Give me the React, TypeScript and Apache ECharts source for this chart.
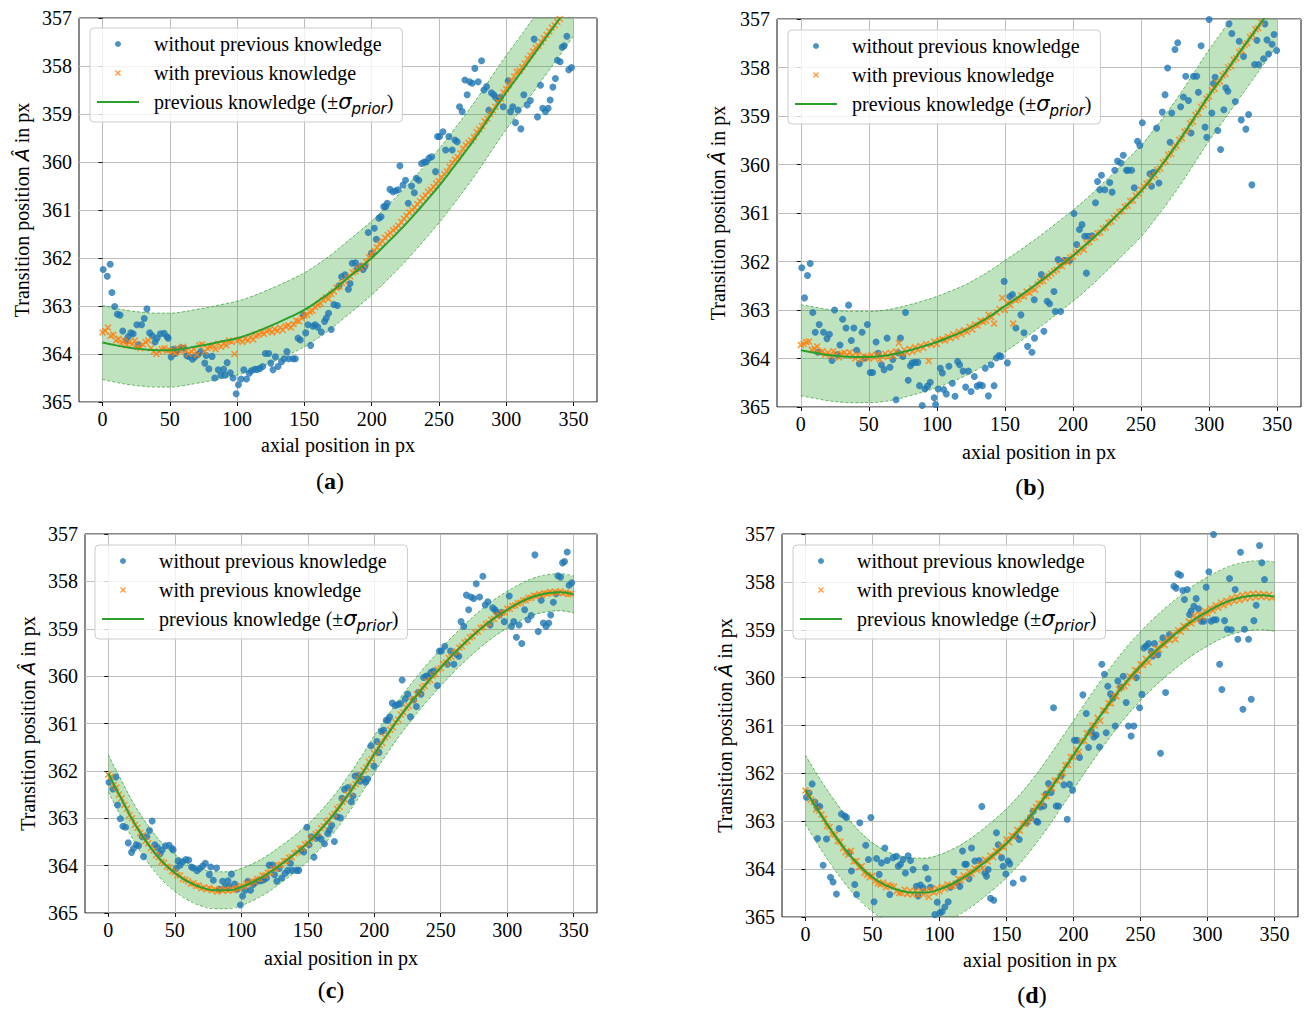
import React, { useEffect, useRef } from "react";
import * as echarts from "echarts";

// ---------------- data ----------------
const X_TICKS = [0, 50, 100, 150, 200, 250, 300, 350];

const PRIOR_X = [0, 10, 20, 30, 40, 50, 60, 70, 80, 90, 100, 110, 120, 130, 140, 150, 160, 170, 180, 190, 200, 210, 220, 230, 240, 250, 260, 270, 280, 290, 300, 310, 320, 330, 340, 350];

const PRIOR_A = [363.76, 363.82, 363.87, 363.9, 363.92, 363.92, 363.89, 363.84, 363.79, 363.73, 363.67, 363.58, 363.47, 363.35, 363.22, 363.08, 362.9, 362.7, 362.47, 362.24, 362.0, 361.73, 361.45, 361.15, 360.83, 360.5, 360.14, 359.77, 359.38, 358.96, 358.55, 358.17, 357.78, 357.39, 357.0, 356.6];
const PRIOR_B = [363.83, 363.88, 363.93, 363.96, 363.97, 363.97, 363.95, 363.9, 363.83, 363.75, 363.66, 363.55, 363.43, 363.28, 363.11, 362.92, 362.73, 362.53, 362.32, 362.1, 361.88, 361.64, 361.38, 361.11, 360.83, 360.55, 360.2, 359.83, 359.43, 359.0, 358.57, 358.18, 357.78, 357.39, 357.0, 356.6];
const PRIOR_C = [362.05, 362.6, 363.12, 363.55, 363.9, 364.15, 364.34, 364.46, 364.52, 364.52, 364.45, 364.33, 364.17, 363.97, 363.76, 363.52, 363.23, 362.9, 362.52, 362.1, 361.65, 361.23, 360.83, 360.47, 360.13, 359.82, 359.52, 359.25, 359.0, 358.78, 358.6, 358.44, 358.32, 358.25, 358.23, 358.28];
const PRIOR_D = [362.34, 362.8, 363.22, 363.6, 363.92, 364.17, 364.34, 364.44, 364.49, 364.49, 364.42, 364.3, 364.14, 363.94, 363.71, 363.46, 363.16, 362.82, 362.44, 362.03, 361.62, 361.2, 360.8, 360.42, 360.07, 359.76, 359.48, 359.23, 359.0, 358.79, 358.62, 358.47, 358.36, 358.3, 358.28, 358.31];

const SIGMA_A = 0.77;
const SIGMA_B = 0.94;
const SIGMA_C = 0.39;
const SIGMA_D = 0.72;

const ORANGE_X = [0, 2, 4, 6, 8, 10, 12, 14, 16, 18, 20, 22, 24, 26, 28, 30, 32, 34, 36, 38, 40, 42, 44, 46, 48, 50, 52, 54, 56, 58, 60, 62, 64, 66, 68, 70, 72, 74, 76, 78, 80, 82, 84, 86, 88, 90, 92, 94, 96, 98, 100, 102, 104, 106, 108, 110, 112, 114, 116, 118, 120, 122, 124, 126, 128, 130, 132, 134, 136, 138, 140, 142, 144, 146, 148, 150, 152, 154, 156, 158, 160, 162, 164, 166, 168, 170, 172, 174, 176, 178, 180, 182, 184, 186, 188, 190, 192, 194, 196, 198, 200, 202, 204, 206, 208, 210, 212, 214, 216, 218, 220, 222, 224, 226, 228, 230, 232, 234, 236, 238, 240, 242, 244, 246, 248, 250, 252, 254, 256, 258, 260, 262, 264, 266, 268, 270, 272, 274, 276, 278, 280, 282, 284, 286, 288, 290, 292, 294, 296, 298, 300, 302, 304, 306, 308, 310, 312, 314, 316, 318, 320, 322, 324, 326, 328, 330, 332, 334, 336, 338, 340, 342, 344, 346, 348];

const ORANGE_A = [
  363.55, 363.52, 363.45, 363.62, 363.6, 363.72, 363.68, 363.78, 363.72, 363.82,
  363.75, 363.8, 363.72, 363.85, 363.88, 363.8, 363.75, 363.72, 363.88, 363.95,
  364.0, 363.95, 363.9, 363.88, 363.93, 363.92, 363.95, 363.98, 363.88, 363.95,
  363.85, 363.92, 364.0, 363.95, 363.9, 364.02, 363.82, 363.8, 363.95, 363.88,
  363.85, 363.82, 363.9, 363.78, 363.85, 363.78, 363.82, 363.72, 363.75, 364.0,
  363.72, 363.7, 363.75, 363.68, 363.72, 363.65, 363.7, 363.62, 363.6, 363.55,
  363.58, 363.52, 363.5, 363.55, 363.48, 363.52, 363.45, 363.5, 363.42, 363.4,
  363.45, 363.38, 363.3, 363.32, 363.25, 363.2, 363.18, 363.12, 363.1, 363.02,
  362.98, 362.95, 362.88, 362.82, 362.85, 362.75, 362.7, 362.62, 362.6, 362.52,
  362.48, 362.42, 362.38, 362.3, 362.28, 362.22, 362.2, 362.15, 362.08, 361.98,
  361.92, 361.85, 361.78, 361.7, 361.65, 361.58, 361.52, 361.48, 361.42, 361.38,
  361.33, 361.25, 361.18, 361.12, 361.05, 361.0, 360.95, 360.88, 360.82, 360.75,
  360.7, 360.62, 360.58, 360.52, 360.45, 360.4, 360.32, 360.25, 360.2, 360.1,
  360.02, 359.95, 359.9, 359.82, 359.72, 359.65, 359.6, 359.55, 359.48, 359.38,
  359.32, 359.25, 359.15, 359.1, 359.0, 358.92, 358.85, 358.75, 358.68, 358.55,
  358.48, 358.4, 358.3, 358.22, 358.12, 358.1, 358.02, 357.95, 357.85, 357.78,
  357.7, 357.62, 357.58, 357.5, 357.42, 357.35, 357.28, 357.2, 357.15, 357.08,
  357.02,
];

const ORANGE_B = [
  363.72, 363.7, 363.66, 363.65, 363.82, 363.8, 363.75, 363.88, 363.85, 363.92,
  363.88, 363.95, 363.85, 363.92, 363.98, 363.9, 363.88, 363.93, 363.87, 363.95,
  364.0, 363.92, 364.02, 363.95, 363.97, 364.0, 363.93, 363.98, 363.92, 364.02,
  363.95, 363.9, 363.97, 363.88, 363.95, 363.85, 363.68, 363.9, 363.82, 363.88,
  363.8, 363.86, 363.77, 363.82, 363.74, 363.78, 363.7, 364.05, 363.72, 363.65,
  363.7, 363.62, 363.6, 363.63, 363.55, 363.58, 363.5, 363.55, 363.45, 363.5,
  363.42, 363.45, 363.35, 363.4, 363.3, 363.32, 363.22, 363.25, 363.22, 363.1,
  363.15, 363.28, 363.05, 362.98, 362.75, 363.0, 362.85, 362.9, 363.28, 362.8,
  362.78, 362.7, 362.72, 362.62, 362.65, 362.55, 362.58, 362.47, 362.42, 362.4,
  362.33, 362.3, 362.25, 362.2, 362.17, 362.08, 362.1, 361.98, 362.02, 361.92,
  361.9, 361.82, 361.8, 361.72, 361.76, 361.62, 361.6, 361.52, 361.5, 361.42,
  361.4, 361.32, 361.3, 361.2, 361.18, 361.1, 361.05, 360.98, 360.96, 360.87,
  360.85, 360.75, 360.74, 360.64, 360.6, 360.52, 360.45, 360.39, 360.37, 360.25,
  360.22, 360.11, 360.08, 359.96, 359.93, 359.8, 359.78, 359.65, 359.62, 359.49,
  359.46, 359.32, 359.3, 359.15, 359.12, 358.98, 358.94, 358.81, 358.77, 358.64,
  358.6, 358.47, 358.44, 358.32, 358.29, 358.16, 358.13, 358.0, 357.97, 357.84,
  357.81, 357.68, 357.65, 357.53, 357.5, 357.37, 357.34, 357.21, 357.19, 357.06,
];

const ORANGE_C = [
  362.08, 362.12, 362.3, 362.35, 362.5, 362.58, 362.72, 362.8, 362.93, 363.0,
  363.14, 363.2, 363.31, 363.36, 363.48, 363.53, 363.63, 363.68, 363.78, 363.82,
  363.92, 363.94, 364.02, 364.04, 364.12, 364.14, 364.2, 364.21, 364.28, 364.3,
  364.33, 364.38, 364.37, 364.43, 364.42, 364.48, 364.46, 364.5, 364.47, 364.52,
  364.5, 364.55, 364.5, 364.53, 364.5, 364.53, 364.5, 364.52, 364.47, 364.48,
  364.43, 364.44, 364.38, 364.39, 364.33, 364.34, 364.28, 364.28, 364.21, 364.21,
  364.15, 364.14, 364.07, 364.06, 363.99, 363.98, 363.9, 363.9, 363.83, 363.82,
  363.74, 363.72, 363.64, 363.63, 363.55, 363.53, 363.44, 363.41, 363.33, 363.3,
  363.21, 363.17, 363.08, 363.04, 362.95, 362.91, 362.8, 362.76, 362.65, 362.61,
  362.5, 362.45, 362.33, 362.28, 362.16, 362.11, 361.99, 361.93, 361.81, 361.75,
  361.63, 361.58, 361.46, 361.41, 361.29, 361.24, 361.13, 361.08, 360.97, 360.92,
  360.81, 360.77, 360.66, 360.63, 360.52, 360.48, 360.38, 360.34, 360.24, 360.21,
  360.11, 360.08, 359.99, 359.96, 359.86, 359.83, 359.74, 359.71, 359.62, 359.59,
  359.5, 359.48, 359.4, 359.37, 359.29, 359.26, 359.18, 359.16, 359.08, 359.06,
  358.98, 358.97, 358.9, 358.88, 358.81, 358.79, 358.73, 358.71, 358.66, 358.65,
  358.58, 358.58, 358.52, 358.51, 358.46, 358.45, 358.4, 358.4, 358.35, 358.35,
  358.3, 358.31, 358.27, 358.29, 358.25, 358.26, 358.22, 358.25, 358.22, 358.24,
  358.21, 358.25, 358.24, 358.27, 358.26,
];

const ORANGE_D = [
  362.36, 362.42, 362.55, 362.6, 362.75, 362.78, 362.86, 362.95, 363.1, 363.12,
  363.27, 363.28, 363.42, 363.43, 363.56, 363.65, 363.7, 363.62, 363.84, 363.83,
  363.96, 363.94, 364.08, 364.12, 364.17, 364.14, 364.25, 364.3, 364.32, 364.28,
  364.38, 364.33, 364.35, 364.37, 364.46, 364.5, 364.5, 364.43, 364.52, 364.45,
  364.53, 364.46, 364.54, 364.45, 364.53, 364.46, 364.58, 364.43, 364.49, 364.4,
  364.46, 364.37, 364.41, 364.32, 364.36, 364.35, 364.3, 364.2, 364.24, 364.13,
  364.17, 364.06, 364.1, 363.98, 364.02, 363.9, 363.98, 363.8, 363.84, 363.72,
  363.75, 363.62, 363.65, 363.52, 363.55, 363.38, 363.44, 363.3, 363.32, 363.18,
  363.2, 363.05, 363.06, 363.0, 362.93, 362.78, 362.7, 362.63, 362.63, 362.48,
  362.48, 362.32, 362.31, 362.15, 362.15, 362.08, 361.99, 361.83, 361.82, 361.66,
  361.66, 361.5, 361.55, 361.33, 361.32, 361.16, 361.16, 361.0, 361.0, 360.84,
  360.9, 360.68, 360.69, 360.53, 360.54, 360.38, 360.39, 360.24, 360.2, 360.18,
  360.11, 359.97, 359.99, 359.84, 359.86, 359.72, 359.74, 359.61, 359.68, 359.5,
  359.52, 359.39, 359.42, 359.29, 359.32, 359.19, 359.22, 359.1, 359.2, 359.01,
  359.04, 358.92, 358.96, 358.83, 358.87, 358.7, 358.8, 358.68, 358.74, 358.61,
  358.66, 358.55, 358.6, 358.49, 358.54, 358.43, 358.49, 358.39, 358.44, 358.34,
  358.4, 358.31, 358.38, 358.28, 358.35, 358.26, 358.33, 358.25, 358.32, 358.25,
  358.31, 358.26, 358.32, 358.27, 358.33,
];

// estimates without previous knowledge (shared by panels a and c)
const BLUE_AC = [
  [0.5, 362.24], [3.5, 362.38], [5.7, 362.13], [7, 362.72], [9, 363.01], [11, 363.17], [13, 363.19], [15, 363.52], [17.5, 363.72], [19, 363.64],
  [21, 363.56], [22.8, 363.58], [25.5, 363.39], [26.5, 363.81], [29, 363.39], [31, 363.26], [33, 363.06], [35, 363.56], [37, 363.62], [39, 363.75],
  [40.5, 363.67], [43, 363.58], [45.8, 363.57], [48, 363.64], [48.8, 363.67], [51, 364.06], [52.5, 363.9], [54, 363.99], [56, 363.92], [58.3, 363.87],
  [60.5, 363.88], [62.6, 364.03], [64, 364.05], [66.8, 364.11], [68.6, 364.06], [71, 364.01], [73, 363.95], [76, 364.19], [77, 364.03], [79, 364.31],
  [81.4, 364.05], [83.4, 364.5], [86, 364.33], [88, 364.44], [90, 364.32], [91, 364.44], [92.6, 364.18], [95, 364.39], [97, 364.5], [99.3, 364.83],
  [101, 364.64], [103, 364.52], [105, 364.33], [107, 364.52], [109, 364.4], [110.6, 364.35], [113, 364.32], [115, 364.32], [117, 364.3], [119, 364.26],
  [121, 363.99], [123.5, 363.99], [125, 364.19], [126.7, 364.33], [128.5, 364.06], [130.4, 364.26], [133, 364.16], [135, 364.1], [137, 363.95], [138.4, 364.1],
  [141.6, 364.1], [143.3, 364.1], [145.3, 363.67], [147, 363.71], [149.3, 363.19], [151, 363.56], [152.7, 363.39], [154.7, 363.82], [156.4, 363.42], [158, 363.39],
  [160, 363.44], [162.6, 363.54], [165, 363.32], [166.3, 363.25], [168, 363.15], [170, 363.49], [172, 362.97], [174.5, 362.99], [175.7, 362.58], [177.7, 362.39],
  [180.2, 362.35], [182.7, 362.65], [184, 362.53], [185.6, 362.11], [188, 362.1], [189.4, 362.22], [191.8, 362.18], [193.6, 362.24], [195, 362.17], [197.5, 361.47],
  [199.8, 361.9], [202, 361.38], [203.5, 361.61], [205.4, 361.17], [207, 361.14], [209, 360.93], [210.4, 360.93], [211.6, 360.86], [213.6, 360.57], [215.8, 360.62],
  [217.8, 360.6], [219.8, 360.58], [221, 360.08], [223.3, 360.48], [225.2, 360.38], [227.2, 360.86], [229.7, 360.5], [231.7, 360.64], [233.2, 360.34], [235.1, 360.38],
  [237.1, 360.03], [239.1, 360.0], [240.6, 360.0], [242.6, 359.92], [244.6, 359.89], [247.5, 360.2], [249, 359.47], [250.5, 359.47], [253, 359.37], [255, 359.75],
  [257.4, 359.47], [259.9, 359.75], [261.9, 359.54], [263.6, 359.58], [265.3, 358.85], [267.3, 358.95], [269.3, 358.29], [271, 358.6], [272.8, 358.33], [274.8, 358.36],
  [276.7, 358.05], [279.2, 358.33], [281.7, 357.89], [283.4, 358.5], [285.4, 358.43], [287.1, 358.92], [289.1, 358.56], [290.8, 358.6], [292.1, 358.65], [294, 358.71],
  [295.8, 358.65], [297.8, 358.85], [301.5, 358.31], [303.2, 358.95], [304.9, 358.85], [306.9, 359.18], [308.9, 358.92], [310.9, 359.31], [313.1, 358.6], [315.6, 358.81],
  [318, 358.72], [320.8, 357.44], [323.3, 359.06], [325.5, 358.4], [327.2, 358.88], [329.2, 358.95], [331.2, 358.88], [332.7, 358.71], [334.7, 358.44], [336.6, 358.26],
  [338.1, 357.88], [340.1, 357.91], [341.6, 357.61], [343.1, 357.58], [345.1, 357.38], [346.5, 358.08], [348.5, 358.03],
];

const BLUE_B = [
  [0.7, 362.13], [2.7, 362.75], [4.9, 362.29], [6.9, 362.04], [8.8, 363.05], [10.6, 363.46], [12.5, 363.87], [13.5, 363.3], [16.7, 363.46], [19.2, 363.59],
  [21, 363.5], [22.9, 364.04], [24.8, 363.0], [27, 363.92], [28.8, 363.72], [30.7, 363.19], [33.2, 363.37], [35.1, 362.9], [37.1, 363.63], [39, 363.37],
  [41, 363.83], [43, 364.11], [45, 363.46], [47, 363.99], [48.9, 363.3], [51, 364.29], [52.8, 364.29], [55.3, 363.66], [56.8, 363.89], [59.2, 364.13],
  [61.2, 364.23], [63.4, 363.58], [65.5, 364.18], [67.6, 364.02], [70, 364.85], [71.5, 363.88], [73.2, 363.58], [75, 363.96], [76.9, 363.05], [78.9, 364.45],
  [80.5, 364.15], [81.8, 364.09], [83.8, 364.08], [86, 364.08], [87.2, 364.56], [89.2, 364.97], [91.2, 364.63], [93.1, 364.57], [95.1, 364.49], [98, 364.81],
  [99, 364.95], [101, 364.63], [102.5, 364.2], [104, 364.3], [105, 364.64], [106.9, 364.73], [108.8, 364.16], [111.3, 364.51], [113.3, 364.78], [115.2, 364.06],
  [116.7, 364.13], [119.2, 364.26], [121.1, 364.59], [123.1, 364.26], [125.1, 364.68], [127.5, 364.37], [129.5, 364.57], [131.4, 364.54], [133.4, 364.56], [135.5, 364.2],
  [137.8, 364.77], [139.8, 364.13], [142, 364.56], [143.7, 363.99], [145.7, 363.94], [147.2, 363.96], [149.4, 362.41], [151.8, 364.09], [153.6, 362.72], [155.5, 362.68],
  [158, 363.37], [161.7, 363.1], [164, 363.47], [166.6, 363.75], [169.8, 363.87], [171.5, 362.79], [171.7, 363.58], [176.7, 362.27], [178.6, 363.44], [181, 362.82],
  [182.8, 362.87], [186, 362.62], [187, 363.03], [189, 361.96], [190.9, 363.03], [193.4, 361.98], [195, 361.98], [197.5, 361.98], [200.7, 361.01], [202.7, 361.65],
  [204.7, 361.34], [206.6, 361.24], [208.6, 361.48], [209.8, 362.24], [211, 361.48], [214, 361.47], [216.5, 360.79], [218, 360.35], [219.7, 360.52], [220.9, 360.22],
  [223.3, 360.52], [227, 360.37], [228.7, 360.57], [230.7, 360.12], [232.7, 359.93], [235.1, 359.97], [236.9, 359.81], [239.3, 360.12], [240.5, 360.12], [243, 360.12],
  [245, 360.48], [247.4, 359.52], [249.1, 359.61], [250.9, 359.14], [256.5, 360.19], [257.7, 360.45], [259.2, 360.16], [261.4, 359.25], [263.1, 360.38], [265.6, 358.92],
  [267.6, 358.56], [269.5, 358.01], [271.3, 359.54], [272.5, 358.94], [274.9, 357.63], [276.9, 357.49], [279.1, 358.81], [281.1, 358.61], [282.8, 358.18], [284.8, 358.68],
  [286.7, 359.35], [288.5, 358.18], [290.9, 358.18], [292.1, 358.51], [294.1, 357.55], [297, 359.23], [298.3, 359.44], [300, 357.01], [302, 358.94], [303.2, 358.33],
  [304.4, 358.2], [306.4, 359.3], [308.4, 359.69], [310.8, 358.87], [312.3, 358.42], [313.8, 358.49], [314.6, 357.1], [316.7, 357.3], [319.2, 358.7], [322.1, 357.46],
  [323.6, 359.08], [325.3, 357.77], [327, 359.27], [329, 358.97], [331.4, 360.42], [333.4, 357.94], [335.1, 357.44], [336.4, 357.94], [340, 357.82], [341, 357.1],
  [342.5, 357.43], [343.7, 357.72], [346.2, 357.52], [347.7, 357.32], [349.6, 357.65],
];

const BLUE_D = [
  [0.7, 362.5], [2.7, 362.41], [5, 362.22], [7, 362.6], [8.7, 362.71], [9, 363.36], [10.7, 362.69], [13.2, 363.92], [15.7, 363.37], [18.7, 364.17],
  [20.6, 364.27], [23.1, 364.52], [25.1, 363.15], [26.9, 362.85], [29.4, 362.89], [30.6, 362.92], [32.6, 363.66], [34.3, 364.04], [36.8, 364.32], [38.1, 364.53],
  [40.5, 363.03], [45, 363.5], [47, 363.8], [48.8, 362.92], [51.2, 364.68], [53, 363.78], [55, 364.11], [56.7, 363.87], [59.2, 363.56], [61, 363.82],
  [62.9, 364.53], [65.4, 363.76], [67.9, 363.73], [69.2, 363.94], [70.9, 363.9], [72.9, 363.8], [74.6, 364.08], [76.6, 363.72], [78.4, 363.82], [80.3, 364.01],
  [82.8, 364.36], [84.1, 364.56], [85.8, 364.33], [87.8, 364.39], [89.6, 363.97], [91.5, 364.2], [93.3, 364.38], [96.5, 364.95], [98.3, 364.69], [100.2, 364.91],
  [101.9, 364.89], [104, 364.79], [106.5, 364.68], [108.2, 364.38], [110.7, 364.06], [113.2, 364.29], [115.2, 364.36], [117.2, 363.62], [118.9, 363.9], [120.1, 363.9],
  [122.1, 364.2], [123.9, 363.56], [126.4, 363.83], [129.6, 363.82], [131.6, 362.69], [133.8, 364.08], [135.1, 364.15], [136.3, 364.01], [138.1, 364.61], [140.5, 364.65],
  [142.5, 363.24], [143.8, 363.49], [146.3, 363.76], [147.5, 363.94], [149.5, 364.1], [151.2, 363.83], [152.5, 363.89], [155, 364.29], [157, 363.31], [159.5, 363.38],
  [162.4, 364.2], [164.9, 363.03], [167.9, 362.92], [169.9, 362.79], [172.4, 363.0], [173.4, 363.02], [175.4, 362.7], [177.9, 362.68], [179.6, 362.43], [181.3, 362.21],
  [183.3, 362.4], [185.1, 360.63], [187.1, 362.68], [188.8, 362.68], [190.8, 362.05], [192.8, 362.24], [195.3, 362.96], [197, 362.23], [199.3, 362.35], [200.7, 361.31],
  [202.7, 361.31], [204.5, 361.67], [207, 360.36], [209.5, 360.75], [211.2, 361.46], [213.2, 361.12], [215.2, 361.24], [216.9, 361.2], [219.4, 361.45], [221.1, 359.72],
  [223.1, 359.93], [224.4, 361.15], [225.6, 360.18], [227.6, 360.34], [229.4, 360.43], [231.1, 361.01], [233.1, 360.07], [235.1, 360.2], [237.1, 359.97], [239.3, 360.52],
  [241, 361.01], [243, 361.22], [245, 361.01], [246.8, 360.0], [249.3, 360.63], [251, 360.35], [252.5, 359.38], [254.2, 359.34], [256, 359.29], [257.9, 359.45],
  [259.2, 359.55], [260.4, 359.29], [262.9, 359.52], [264.9, 361.58], [266.7, 359.17], [268.7, 360.31], [271.6, 359.1], [274.9, 358.09], [276.6, 358.13], [277.9, 357.83],
  [279.9, 357.86], [281.6, 358.18], [282.8, 358.37], [284.8, 358.16], [286.6, 358.68], [287.8, 358.61], [289.8, 358.51], [291.5, 358.35], [293.3, 358.56], [295.3, 358.82],
  [297.3, 358.82], [299, 358.11], [301, 357.79], [302.7, 358.82], [304.5, 357.01], [304.7, 358.79], [306.5, 358.79], [309, 359.72], [310.7, 360.25], [312.7, 358.81],
  [314.7, 358.99], [316.4, 357.93], [317.7, 359.0], [320.6, 358.16], [322.6, 359.2], [324.6, 357.38], [326.4, 360.66], [327.6, 358.99], [330.6, 359.2], [332.6, 360.45],
  [334.6, 358.81], [336.3, 358.49], [338.8, 357.24], [340.5, 357.6], [342.5, 357.95],
];

// ---------------- styling ----------------
const SERIF = "'Liberation Serif', 'Times New Roman', serif";
const MATH = "'DejaVu Sans', sans-serif";
const BLUE = "#1f77b4";
const ORANGE = "#ff7f0e";
const GREEN = "#2ca02c";
const BAND_FILL = "rgba(44,160,44,0.3)";
const GRIDLINE = "#bdbdbd";
const CROSS = "path://M0,1.6L1.6,0L5,3.4L8.4,0L10,1.6L6.6,5L10,8.4L8.4,10L5,6.6L1.6,10L0,8.4L3.4,5Z";
const LINE_ICON = "path://M0,0H42V2H0Z";

const N_BLUE = "without previous knowledge";
const N_ORANGE = "with previous knowledge";
const N_PRIOR = "previous knowledge";

const PANELS = [
  { prior: PRIOR_A, sigma: SIGMA_A, blue: BLUE_AC, orange: ORANGE_A, letter: "a", grid: { left: 79, top: 18, width: 518, height: 384 }, legend: { left: 90, top: 28 }, xGap: 33, yGap: 47, cap: [330, 481] },
  { prior: PRIOR_B, sigma: SIGMA_B, blue: BLUE_B, orange: ORANGE_B, letter: "b", grid: { left: 777, top: 19, width: 524, height: 388 }, legend: { left: 788, top: 30 }, xGap: 35, yGap: 49, cap: [1030, 487] },
  { prior: PRIOR_C, sigma: SIGMA_C, blue: BLUE_AC, orange: ORANGE_C, letter: "c", grid: { left: 85, top: 534, width: 512, height: 379 }, legend: { left: 95, top: 545 }, xGap: 35, yGap: 47, cap: [331, 990] },
  { prior: PRIOR_D, sigma: SIGMA_D, blue: BLUE_D, orange: ORANGE_D, letter: "d", grid: { left: 782, top: 534, width: 516, height: 383 }, legend: { left: 793, top: 545 }, xGap: 33, yGap: 47, cap: [1032, 995] },
];

function buildOption() {
  const grid: any[] = [];
  const xAxis: any[] = [];
  const yAxis: any[] = [];
  const series: any[] = [];
  const legend: any[] = [];
  const graphic: any[] = [];

  PANELS.forEach((p, i) => {
    grid.push({ ...p.grid, show: true, borderColor: "#111", borderWidth: 1, containLabel: false, outerBoundsMode: "none" });
    xAxis.push({
      type: "value", gridIndex: i, min: -17.5, max: 367.5,
      name: "axial position in px", nameLocation: "middle", nameGap: p.xGap,
      nameTextStyle: { fontFamily: SERIF, fontSize: 20, color: "#000" },
      axisLine: { show: false },
      axisTick: { show: true, length: 4, customValues: X_TICKS, lineStyle: { color: "#111" } },
      axisLabel: { customValues: X_TICKS, margin: 7, fontFamily: SERIF, fontSize: 20, color: "#000" },
      splitLine: { show: true, lineStyle: { color: GRIDLINE, width: 1 } },
    });
    yAxis.push({
      type: "value", gridIndex: i, min: 357, max: 365, interval: 1, inverse: true,
      name: "{n|Transition position }{m|Â}{n| in px}", nameLocation: "middle", nameGap: p.yGap, nameRotate: 90,
      nameTextStyle: {
        fontFamily: SERIF, fontSize: 20, color: "#000",
        rich: {
          n: { fontFamily: SERIF, fontSize: 20, color: "#000" },
          m: { fontFamily: MATH, fontStyle: "italic", fontSize: 19, color: "#000" },
        },
      },
      axisLine: { show: false },
      axisTick: { show: true, length: 4, lineStyle: { color: "#111" } },
      axisLabel: { margin: 7, fontFamily: SERIF, fontSize: 20, color: "#000" },
      splitLine: { show: true, lineStyle: { color: GRIDLINE, width: 1 } },
    });

    // shaded ±sigma band (polygon through prior - sigma and prior + sigma)
    series.push({
      type: "custom", name: `band-fill-${p.letter}`, xAxisIndex: i, yAxisIndex: i, silent: true, z: 1,
      data: [[0, 361]],
      renderItem: (params: any, api: any) => {
        if (params.dataIndex !== 0) return null;
        const upper = p.prior.map((v, k) => api.coord([PRIOR_X[k], v - p.sigma]));
        const lower = p.prior.map((v, k) => api.coord([PRIOR_X[k], v + p.sigma])).reverse();
        const cs = params.coordSys;
        return {
          type: "polygon",
          shape: { points: upper.concat(lower) },
          style: { fill: BAND_FILL, stroke: null },
          clipPath: { type: "rect", shape: { x: cs.x, y: cs.y, width: cs.width, height: cs.height } },
        };
      },
    });
    const edge = { color: GREEN, width: 0.8, type: [3, 2], opacity: 0.9 };
    series.push({
      type: "line", name: `band-upper-${p.letter}`, xAxisIndex: i, yAxisIndex: i,
      data: p.prior.map((v, k) => [PRIOR_X[k], v - p.sigma]),
      symbol: "none", smooth: true, lineStyle: edge, silent: true, z: 2,
    });
    series.push({
      type: "line", name: `band-lower-${p.letter}`, xAxisIndex: i, yAxisIndex: i,
      data: p.prior.map((v, k) => [PRIOR_X[k], v + p.sigma]),
      symbol: "none", smooth: true, lineStyle: edge, silent: true, z: 2,
    });
    series.push({
      type: "scatter", name: N_BLUE, xAxisIndex: i, yAxisIndex: i,
      data: p.blue, symbol: "circle", symbolSize: 7, itemStyle: { color: BLUE }, z: 3,
    });
    series.push({
      type: "scatter", name: N_ORANGE, xAxisIndex: i, yAxisIndex: i,
      data: p.orange.map((v, k) => [ORANGE_X[k], v]), symbol: CROSS, symbolSize: 7, itemStyle: { color: ORANGE }, z: 4,
    });
    series.push({
      type: "line", name: N_PRIOR, xAxisIndex: i, yAxisIndex: i,
      data: p.prior.map((v, k) => [PRIOR_X[k], v]), symbol: "none", smooth: true,
      lineStyle: { color: GREEN, width: 2 }, itemStyle: { color: GREEN }, z: 5,
    });

    legend.push({
      show: true, orient: "vertical", left: p.legend.left, top: p.legend.top,
      data: [N_BLUE, N_ORANGE, { name: N_PRIOR, icon: LINE_ICON }], selectedMode: false,
      itemWidth: 42, itemHeight: 6, itemGap: 1, padding: [2, 9, 6, 7],
      backgroundColor: "rgba(255,255,255,0.8)", borderColor: "#cccccc", borderWidth: 1, borderRadius: 4,
      textStyle: {
        fontFamily: SERIF, fontSize: 20, color: "#000", lineHeight: 28, padding: [0, 0, 0, 10],
        rich: {
          t: { fontFamily: SERIF, fontSize: 20, color: "#000", lineHeight: 28 },
          s: { fontFamily: MATH, fontStyle: "italic", fontSize: 21, color: "#000", lineHeight: 28 },
          p: { fontFamily: MATH, fontStyle: "italic", fontSize: 15, color: "#000", lineHeight: 15, padding: [13, 0, 0, 0] },
        },
      },
      formatter: (name: string) =>
        name === N_PRIOR ? "{t|previous knowledge (±}{s|σ}{p|prior}{t|)}" : `{t|${name}}`,
    });

    graphic.push({
      type: "text", x: p.cap[0], y: p.cap[1], z: 10,
      style: {
        text: `{p|(}{b|${p.letter}}{p|)}`, align: "center", verticalAlign: "middle",
        rich: {
          p: { fontFamily: SERIF, fontSize: 24, fill: "#000" },
          b: { fontFamily: SERIF, fontSize: 24, fontWeight: "bold", fill: "#000" },
        },
      },
    });
  });

  return { animation: false, backgroundColor: "#ffffff", grid, xAxis, yAxis, series, legend, graphic };
}

export default function App() {
  const ref = useRef<HTMLDivElement | null>(null);
  useEffect(() => {
    if (!ref.current) return;
    const chart = echarts.init(ref.current, null, { renderer: "svg" });
    chart.setOption(buildOption() as any);
    return () => chart.dispose();
  }, []);
  return (
    <div
      ref={ref}
      style={{ position: "fixed", left: 0, top: 0, width: "1304px", height: "1010px", background: "#fff" }}
    />
  );
}
